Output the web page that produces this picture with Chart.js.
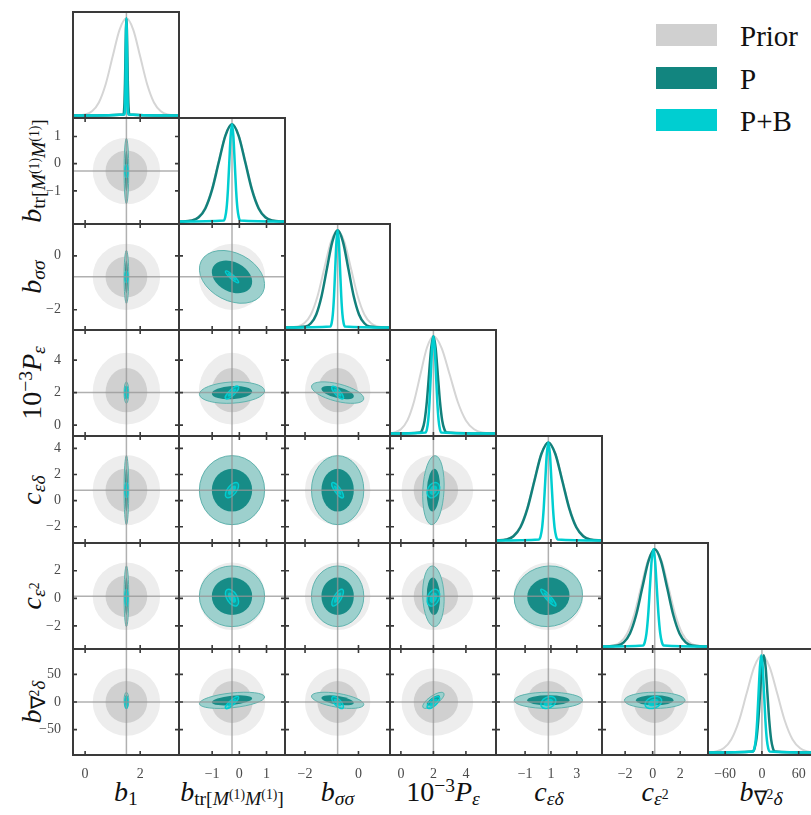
<!DOCTYPE html>
<html>
<head>
<meta charset="utf-8">
<script src="https://cdn.jsdelivr.net/npm/chart.js@4.4.1/dist/chart.umd.min.js"></script>
<style>
html,body{margin:0;padding:0;background:#fff;width:811px;height:815px;overflow:hidden;position:relative;}
canvas{position:absolute;display:block;z-index:2;}
.lbl{position:absolute;z-index:1;font-family:'Liberation Serif','Times New Roman',serif;font-size:28px;line-height:1;white-space:nowrap;color:#111;}
.lbl i{font-style:italic;}
.sb{font-size:0.7em;position:relative;top:0.22em;}
.sp{font-size:0.7em;position:relative;top:-0.45em;}
.legbox{position:absolute;width:61px;height:22px;}
.legtxt{position:absolute;font-family:'Liberation Serif','Times New Roman',serif;font-size:29px;line-height:1;color:#111;white-space:nowrap;}
</style>
</head>
<body>
<script>
// ---------------- DATA ----------------
const PARAM_NAMES = ['b1', 'b_tr[M1M1]', 'b_sigmasigma', '1e-3 P_eps', 'c_epsdelta', 'c_eps2', 'b_lap_delta'];
const SERIES_NAMES = ['Prior', 'P', 'P+B'];

const FIDUCIAL = [1.5, -0.27, -0.78, 2.0, 0.8, 0.15, 0];
const X_MIN = [-0.44, -2.22, -2.75, -0.67, -3.25, -3.68, -88];
const X_MAX = [3.41, 1.68, 1.18, 5.85, 4.95, 4.02, 85];
const Y_MIN = [-0.44, -2.22, -2.75, -0.67, -3.25, -3.68, -96];
const Y_MAX = [3.41, 1.68, 1.18, 5.85, 4.95, 4.02, 96];
const X_TICKS = [[0, 2], [-1, 0, 1], [-2, 0], [0, 2, 4], [-1, 1, 3], [-2, 0, 2], [-60, 0, 60]];
const Y_TICKS = [[], [-1, 0, 1], [-2, 0], [0, 2, 4], [-2, 0, 2, 4], [-2, 0, 2], [-50, 0, 50]];

// Prior (axis-aligned, the P_eps prior is skewed)
const PRIOR_MODE = [1.5, -0.27, -0.78, 2.0, 0.8, 0.15, 0];
const PRIOR_SIGMA_LO = [0.5, 0.5, 0.5, 0.8, 1.1, 1.0, 25];
const PRIOR_SIGMA_HI = [0.5, 0.5, 0.5, 1.0, 1.1, 1.0, 25];

// P forecast
const P_MEAN = [1.5, -0.27, -0.78, 2.0, 0.8, 0.15, 3];
const P_SIGMA = [0.035, 0.49, 0.4, 0.27, 1.08, 0.9, 6];
// P+B forecast
const PB_MEAN = [1.5, -0.27, -0.78, 2.0, 0.8, 0.05, -1];
const PB_SIGMA = [0.022, 0.1, 0.09, 0.16, 0.24, 0.25, 4.5];

// correlation coefficients: row j (y-parameter), column i (x-parameter), i < j
const P_CORR = [
  [],
  [0],
  [0, -0.3],
  [0, 0.15, -0.55],
  [0, 0, 0, 0.15],
  [0, 0, 0, -0.1, 0.05],
  [0, 0.4, -0.5, 0.75, 0, 0]
];
const PB_CORR = [
  [],
  [0],
  [0, -0.9],
  [0, 0.8, -0.8],
  [0, 0.6, -0.8, 0.3],
  [0, -0.5, 0.7, 0.3, -0.9],
  [0, 0.85, -0.7, 0.7, 0.3, 0.3]
];

// 1D marginals: sampled x positions, shared normalised density heights
const DENSITY = [0.011, 0.044, 0.135, 0.325, 0.607, 0.882, 1, 0.882, 0.607, 0.325, 0.135, 0.044, 0.011];
const PRIOR_CURVE_X = [
  [0, 0.25, 0.5, 0.75, 1.0, 1.25, 1.5, 1.75, 2.0, 2.25, 2.5, 2.75, 3.0],
  [-1.77, -1.52, -1.27, -1.02, -0.77, -0.52, -0.27, -0.02, 0.23, 0.48, 0.73, 0.98, 1.23],
  [-2.28, -2.03, -1.78, -1.53, -1.28, -1.03, -0.78, -0.53, -0.28, -0.03, 0.22, 0.47, 0.72],
  [-0.4, 0.0, 0.4, 0.8, 1.2, 1.6, 2.0, 2.5, 3.0, 3.5, 4.0, 4.5, 5.0],
  [-2.5, -1.95, -1.4, -0.85, -0.3, 0.25, 0.8, 1.35, 1.9, 2.45, 3.0, 3.55, 4.1],
  [-2.85, -2.35, -1.85, -1.35, -0.85, -0.35, 0.15, 0.65, 1.15, 1.65, 2.15, 2.65, 3.15],
  [-75, -62.5, -50, -37.5, -25, -12.5, 0, 12.5, 25, 37.5, 50, 62.5, 75]
];
const P_CURVE_X = [
  [1.395, 1.4125, 1.43, 1.4475, 1.465, 1.4825, 1.5, 1.5175, 1.535, 1.5525, 1.57, 1.5875, 1.605],
  [-1.74, -1.495, -1.25, -1.005, -0.76, -0.515, -0.27, -0.025, 0.22, 0.465, 0.71, 0.955, 1.2],
  [-1.98, -1.78, -1.58, -1.38, -1.18, -0.98, -0.78, -0.58, -0.38, -0.18, 0.02, 0.22, 0.42],
  [1.19, 1.325, 1.46, 1.595, 1.73, 1.865, 2.0, 2.135, 2.27, 2.405, 2.54, 2.675, 2.81],
  [-2.44, -1.9, -1.36, -0.82, -0.28, 0.26, 0.8, 1.34, 1.88, 2.42, 2.96, 3.5, 4.04],
  [-2.55, -2.1, -1.65, -1.2, -0.75, -0.3, 0.15, 0.6, 1.05, 1.5, 1.95, 2.4, 2.85],
  [-15, -12, -9, -6, -3, 0, 3, 6, 9, 12, 15, 18, 21]
];
const PB_CURVE_X = [
  [1.434, 1.445, 1.456, 1.467, 1.478, 1.489, 1.5, 1.511, 1.522, 1.533, 1.544, 1.555, 1.566],
  [-0.57, -0.52, -0.47, -0.42, -0.37, -0.32, -0.27, -0.22, -0.17, -0.12, -0.07, -0.02, 0.03],
  [-1.05, -1.005, -0.96, -0.915, -0.87, -0.825, -0.78, -0.735, -0.69, -0.645, -0.6, -0.555, -0.51],
  [1.52, 1.6, 1.68, 1.76, 1.84, 1.92, 2.0, 2.08, 2.16, 2.24, 2.32, 2.4, 2.48],
  [0.08, 0.2, 0.32, 0.44, 0.56, 0.68, 0.8, 0.92, 1.04, 1.16, 1.28, 1.4, 1.52],
  [-0.7, -0.575, -0.45, -0.325, -0.2, -0.075, 0.05, 0.175, 0.3, 0.425, 0.55, 0.675, 0.8],
  [-14.5, -12.25, -10, -7.75, -5.5, -3.25, -1, 1.25, 3.5, 5.75, 8, 10.25, 12.5]
];

// axis titles (real text, with sub/superscripts)
const AXIS_LABELS = [
  '<i>b</i><span class="sb">1</span>',
  '<i>b</i><span class="sb">tr[<i>M</i><span class="sp">(1)</span><i>M</i><span class="sp">(1)</span>]</span>',
  '<i>b</i><span class="sb"><i>σσ</i></span>',
  '10<span class="sp">−3</span><i>P</i><span class="sb"><i>ε</i></span>',
  '<i>c</i><span class="sb"><i>εδ</i></span>',
  '<i>c</i><span class="sb"><i>ε</i><span class="sp">2</span></span>',
  '<i>b</i><span class="sb">∇<span class="sp">2</span><i>δ</i></span>'
];

// ---------------- STYLE / LAYOUT ----------------
const FONT = "'Liberation Serif','Times New Roman',serif";
const COL = {
  priorLine: '#d5d5d5', priorOuter: '#ededed', priorInner: '#d0d0d0',
  pLine: '#12807b', pOuter: '#9dd0cd', pOuterEdge: '#5fb3ae', pInner: '#178c87',
  pbLine: '#00ced1', pbOuter: 'rgba(0,206,209,0.30)', pbInner: 'rgba(0,206,209,0.9)',
  fid: 'rgba(150,150,150,0.75)', frame: '#3a3a3a', tickLbl: '#4a4a4a'
};
const K1 = 1.515, K2 = 2.448;
const GRID_LEFT = 73, GRID_TOP = 12, CELL_W = 105.8, CELL_H = 106.1;
const colX = i => Math.round(GRID_LEFT + i * CELL_W);
const rowY = i => Math.round(GRID_TOP + i * CELL_H);
const MARG = 6, LW = 50, LH = 24, TL = 4;
Chart.defaults.font.family = FONT;

function fmt(v) { return String(v).replace('-', '\u2212'); }

function gaussEllipse(ctx, xs, ys, mx, my, sx, sy, rho, k) {
  const cx = xs.getPixelForValue(mx), cy = ys.getPixelForValue(my);
  const ax = xs.getPixelForValue(mx + sx) - cx;
  const ay = ys.getPixelForValue(my + sy) - cy;
  const a = ax * ax, d = ay * ay, b = rho * ax * ay;
  const tr = a + d, det = a * d - b * b;
  const disc = Math.sqrt(Math.max(0, tr * tr / 4 - det));
  const l1 = tr / 2 + disc, l2 = Math.max(0, tr / 2 - disc);
  let ang;
  if (Math.abs(b) < 1e-12) ang = a >= d ? 0 : Math.PI / 2;
  else ang = Math.atan2(l1 - a, b);
  ctx.beginPath();
  ctx.ellipse(cx, cy, k * Math.sqrt(l1), Math.max(0.3, k * Math.sqrt(l2)), ang, 0, 2 * Math.PI);
}

function priorShape(ctx, xs, ys, i, j, k) {
  const cx = xs.getPixelForValue(PRIOR_MODE[i]), cy = ys.getPixelForValue(PRIOR_MODE[j]);
  const rxL = k * (cx - xs.getPixelForValue(PRIOR_MODE[i] - PRIOR_SIGMA_LO[i]));
  const rxR = k * (xs.getPixelForValue(PRIOR_MODE[i] + PRIOR_SIGMA_HI[i]) - cx);
  const ryU = k * (cy - ys.getPixelForValue(PRIOR_MODE[j] + PRIOR_SIGMA_HI[j]));
  const ryD = k * (ys.getPixelForValue(PRIOR_MODE[j] - PRIOR_SIGMA_LO[j]) - cy);
  ctx.beginPath();
  ctx.ellipse(cx, cy, rxR, ryD, 0, 0, Math.PI / 2);
  ctx.ellipse(cx, cy, rxL, ryD, 0, Math.PI / 2, Math.PI);
  ctx.ellipse(cx, cy, rxL, ryU, 0, Math.PI, 1.5 * Math.PI);
  ctx.ellipse(cx, cy, rxR, ryU, 0, 1.5 * Math.PI, 2 * Math.PI);
  ctx.closePath();
}

const cornerPlugin = {
  id: 'corner',
  beforeDatasetsDraw(chart, args, o) {
    const ctx = chart.ctx, a = chart.chartArea, xs = chart.scales.x, ys = chart.scales.y;
    ctx.save();
    ctx.beginPath(); ctx.rect(a.left, a.top, a.width, a.height); ctx.clip();
    ctx.strokeStyle = COL.fid; ctx.lineWidth = 1.5;
    if (o.diag) {
      const X = xs.getPixelForValue(FIDUCIAL[o.xi]);
      ctx.beginPath(); ctx.moveTo(X, a.top); ctx.lineTo(X, a.bottom); ctx.stroke();
    } else {
      const i = o.xi, j = o.yi;
      priorShape(ctx, xs, ys, i, j, K2); ctx.fillStyle = COL.priorOuter; ctx.fill();
      priorShape(ctx, xs, ys, i, j, K1); ctx.fillStyle = COL.priorInner; ctx.fill();
      const rp = P_CORR[j][i];
      gaussEllipse(ctx, xs, ys, P_MEAN[i], P_MEAN[j], P_SIGMA[i], P_SIGMA[j], rp, K2);
      ctx.fillStyle = COL.pOuter; ctx.fill();
      ctx.strokeStyle = COL.pOuterEdge; ctx.lineWidth = 1; ctx.stroke();
      gaussEllipse(ctx, xs, ys, P_MEAN[i], P_MEAN[j], P_SIGMA[i], P_SIGMA[j], rp, K1);
      ctx.fillStyle = COL.pInner; ctx.fill();
      const rb = PB_CORR[j][i];
      gaussEllipse(ctx, xs, ys, PB_MEAN[i], PB_MEAN[j], PB_SIGMA[i], PB_SIGMA[j], rb, K2);
      ctx.fillStyle = COL.pbOuter; ctx.fill();
      ctx.strokeStyle = COL.pbLine; ctx.lineWidth = 1.4; ctx.stroke();
      gaussEllipse(ctx, xs, ys, PB_MEAN[i], PB_MEAN[j], PB_SIGMA[i], PB_SIGMA[j], rb, K1);
      ctx.fillStyle = COL.pbInner; ctx.fill();
      ctx.strokeStyle = COL.fid; ctx.lineWidth = 1.5;
      const X = xs.getPixelForValue(FIDUCIAL[i]), Y = ys.getPixelForValue(FIDUCIAL[j]);
      ctx.beginPath();
      ctx.moveTo(X, a.top); ctx.lineTo(X, a.bottom);
      ctx.moveTo(a.left, Y); ctx.lineTo(a.right, Y);
      ctx.stroke();
    }
    ctx.restore();
  },
  afterDatasetsDraw(chart, args, o) {
    const ctx = chart.ctx, a = chart.chartArea, xs = chart.scales.x, ys = chart.scales.y;
    ctx.save();
    ctx.strokeStyle = COL.frame; ctx.lineWidth = 1.6;
    ctx.beginPath();
    for (const t of xs.ticks) {
      const X = xs.getPixelForValue(t.value);
      ctx.moveTo(X, a.bottom); ctx.lineTo(X, a.bottom - TL);
      if (!o.diag) { ctx.moveTo(X, a.top); ctx.lineTo(X, a.top + TL); }
    }
    if (!o.diag) {
      for (const t of ys.ticks) {
        const Y = ys.getPixelForValue(t.value);
        ctx.moveTo(a.left, Y); ctx.lineTo(a.left + TL, Y);
        ctx.moveTo(a.right, Y); ctx.lineTo(a.right - TL, Y);
      }
    }
    ctx.stroke();
    ctx.lineWidth = 2;
    ctx.strokeRect(a.left, a.top, a.width, a.height);
    ctx.restore();
  }
};

function curveData(xsArr, i) {
  const pts = [{ x: X_MIN[i], y: 0 }];
  xsArr[i].forEach((x, k) => pts.push({ x: x, y: DENSITY[k] }));
  pts.push({ x: X_MAX[i], y: 0 });
  return pts;
}

for (let r = 0; r < 7; r++) {
  for (let c = 0; c <= r; c++) {
    const diag = r === c;
    const px = colX(c), py = rowY(r);
    const pw = colX(c + 1) - px, ph = rowY(r + 1) - py;
    const hasY = c === 0 && r > 0, hasX = r === 6;
    const W = pw + 2 * MARG + (hasY ? LW : 0), H = ph + 2 * MARG + (hasX ? LH : 0);
    const cv = document.createElement('canvas');
    cv.width = W; cv.height = H;
    cv.style.width = W + 'px'; cv.style.height = H + 'px';
    cv.style.left = (px - MARG - (hasY ? LW : 0)) + 'px';
    cv.style.top = (py - MARG) + 'px';
    document.body.appendChild(cv);

    const datasets = diag ? [
      { label: SERIES_NAMES[2], data: curveData(PB_CURVE_X, c), borderColor: COL.pbLine, borderWidth: 2.5 },
      { label: SERIES_NAMES[1], data: curveData(P_CURVE_X, c), borderColor: COL.pLine, borderWidth: 2.5 },
      { label: SERIES_NAMES[0], data: curveData(PRIOR_CURVE_X, c), borderColor: COL.priorLine, borderWidth: 2 }
    ].map(d => Object.assign(d, { pointRadius: 0, fill: false, cubicInterpolationMode: 'monotone' })) : [];

    new Chart(cv, {
      type: diag ? 'line' : 'scatter',
      data: { datasets: datasets },
      plugins: [cornerPlugin],
      options: {
        responsive: false, animation: false, devicePixelRatio: 1,
        layout: { padding: { left: MARG, right: MARG, top: MARG, bottom: MARG }, autoPadding: false },
        plugins: { legend: { display: false }, tooltip: { enabled: false }, corner: { diag: diag, xi: c, yi: r } },
        scales: {
          x: {
            type: 'linear', position: 'bottom', min: X_MIN[c], max: X_MAX[c],
            grid: { display: false }, border: { display: false },
            ticks: { display: hasX, padding: 3, color: COL.tickLbl, font: { family: FONT, size: 14 }, autoSkip: false, maxRotation: 0, minRotation: 0, callback: v => fmt(v) },
            afterBuildTicks: s => { s.ticks = X_TICKS[c].map(v => ({ value: v })); },
            afterFit: s => { s.height = hasX ? LH : 0; s.paddingLeft = 0; s.paddingRight = 0; }
          },
          y: {
            type: 'linear', position: 'left',
            min: diag ? -0.025 : Y_MIN[r], max: diag ? 1.065 : Y_MAX[r],
            grid: { display: false }, border: { display: false },
            ticks: { display: hasY, padding: 4, color: COL.tickLbl, font: { family: FONT, size: 14 }, autoSkip: false, callback: v => fmt(v) },
            afterBuildTicks: s => { s.ticks = (diag ? [] : Y_TICKS[r]).map(v => ({ value: v })); },
            afterFit: s => { s.width = hasY ? LW : 0; s.paddingTop = 0; s.paddingBottom = 0; }
          }
        }
      }
    });
  }
}

// axis titles
for (let i = 0; i < 7; i++) {
  const d = document.createElement('div');
  d.className = 'lbl';
  d.innerHTML = AXIS_LABELS[i];
  d.style.left = ((colX(i) + colX(i + 1)) / 2) + 'px';
  d.style.top = '778px';
  d.style.transform = 'translateX(-50%)';
  document.body.appendChild(d);
}
for (let j = 1; j < 7; j++) {
  const d = document.createElement('div');
  d.className = 'lbl';
  d.innerHTML = AXIS_LABELS[j];
  d.style.left = '32px';
  d.style.top = ((rowY(j) + rowY(j + 1)) / 2) + 'px';
  d.style.transform = 'translate(-50%,-50%) rotate(-90deg)';
  document.body.appendChild(d);
}

// legend
const LEG_COLORS = [COL.priorInner, '#12857f', COL.pbLine];
const LEG_TOPS = [24, 67, 109];
SERIES_NAMES.forEach((name, k) => {
  const b = document.createElement('div');
  b.className = 'legbox';
  b.style.left = '656px'; b.style.top = LEG_TOPS[k] + 'px'; b.style.background = LEG_COLORS[k];
  document.body.appendChild(b);
  const t = document.createElement('div');
  t.className = 'legtxt';
  t.textContent = name;
  t.style.left = '740px'; t.style.top = (LEG_TOPS[k] - 2) + 'px';
  document.body.appendChild(t);
});
</script>
</body>
</html>
